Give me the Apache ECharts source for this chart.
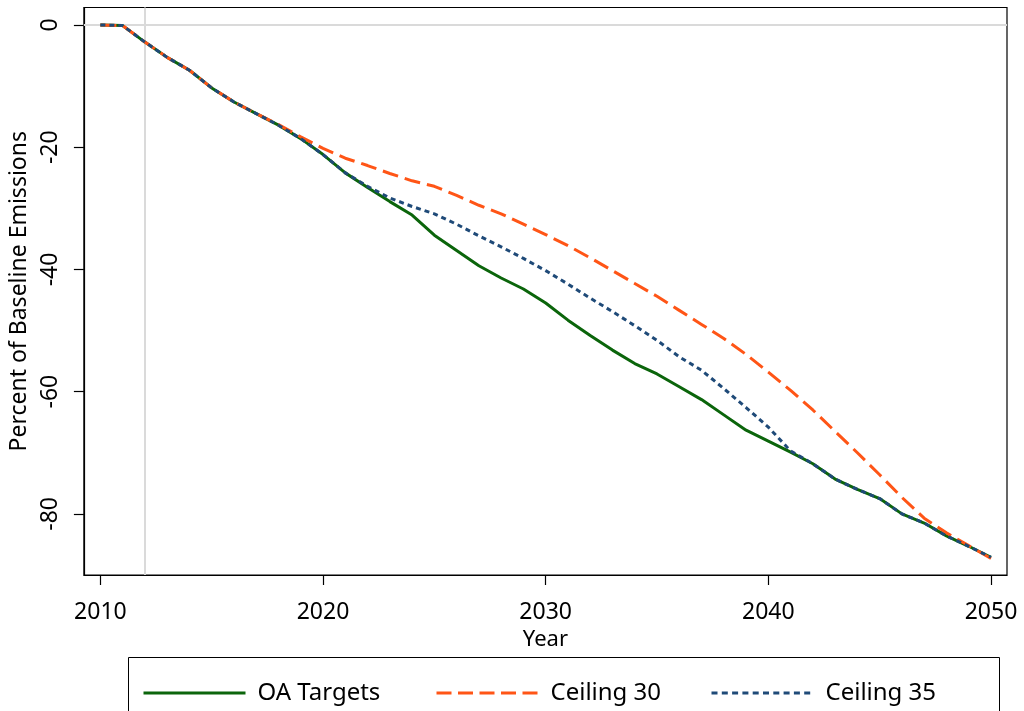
<!DOCTYPE html>
<html>
<head>
<meta charset="utf-8">
<script src="https://cdn.jsdelivr.net/npm/echarts@6/dist/echarts.min.js"></script>
<style>html,body{margin:0;padding:0;background:#fff;}#c{width:1024px;height:711px;}</style>
</head>
<body>
<div id="c"></div>
<script>
var years = [2010,2011,2012,2013,2014,2015,2016,2017,2018,2019,2020,2021,2022,2023,2024,2025,2026,2027,2028,2029,2030,2031,2032,2033,2034,2035,2036,2037,2038,2039,2040,2041,2042,2043,2044,2045,2046,2047,2048,2049,2050];
var oaTargets = [0,-0.1,-2.8,-5.3,-7.4,-10.3,-12.6,-14.5,-16.4,-18.6,-21.2,-24.2,-26.6,-28.9,-31.1,-34.4,-36.9,-39.4,-41.4,-43.2,-45.5,-48.3,-50.8,-53.2,-55.4,-57.1,-59.2,-61.3,-63.8,-66.3,-68.1,-69.9,-71.8,-74.3,-76.0,-77.5,-80.0,-81.5,-83.6,-85.3,-87.1];
var ceiling30 = [0,-0.1,-2.8,-5.3,-7.4,-10.3,-12.6,-14.5,-16.3,-18.3,-20.2,-21.8,-23.0,-24.3,-25.5,-26.4,-27.9,-29.5,-30.9,-32.6,-34.3,-36.1,-38.1,-40.2,-42.3,-44.4,-46.7,-49.0,-51.3,-53.9,-56.8,-59.8,-63.0,-66.5,-70.0,-73.6,-77.3,-80.7,-83.1,-85.2,-87.3];
var ceiling35 = [0,-0.1,-2.8,-5.3,-7.4,-10.3,-12.6,-14.5,-16.4,-18.6,-21.2,-24.2,-26.4,-28.3,-29.7,-30.9,-32.6,-34.5,-36.3,-38.2,-40.2,-42.4,-44.7,-46.9,-49.2,-51.6,-54.3,-56.5,-59.5,-62.6,-65.8,-69.7,-71.8,-74.3,-76.0,-77.5,-80.0,-81.5,-83.6,-85.3,-87.1];
var xTicks = [2010,2020,2030,2040,2050];
var yTicks = [0,-20,-40,-60,-80];
var seriesNames = ['OA Targets','Ceiling 30','Ceiling 35'];
var refX = 2012, refY = 0;

function pairs(v){ return years.map(function(y,i){ return [y, v[i]]; }); }

var FONT = 'Noto Sans';
function legendAt(name, left, dash){
  return { data: [name], left: left, itemWidth: 102, top: 681, padding: 0, itemHeight: 14,
    itemStyle: { opacity: 0 },
    lineStyle: { width: 3, type: dash },
    textStyle: { fontFamily: FONT, fontSize: 24, color: '#000', padding: [0,0,0,7] } };
}

var chart = echarts.init(document.getElementById('c'));
chart.setOption({
  animation: false,
  backgroundColor: '#fff',
  grid: { left: 83.5, top: 7.5, right: 17, bottom: 136, show: true, borderColor: '#000', borderWidth: 1.2, containLabel: false },
  xAxis: {
    type: 'value', min: 2009.26, max: 2050.72,
    name: 'Year', nameLocation: 'middle', nameGap: 35,
    nameTextStyle: { fontFamily: FONT, fontSize: 22, color: '#000' },
    axisLine: { show: true, onZero: false, lineStyle: { color: '#000', width: 1.2 } },
    axisTick: { show: true, length: 10, customValues: xTicks, lineStyle: { color: '#000', width: 1.2 } },
    axisLabel: { customValues: xTicks, formatter: function(v){ return String(v); }, fontFamily: FONT, fontSize: 23, color: '#000', margin: 26 },
    splitLine: { show: false }
  },
  yAxis: {
    type: 'value', min: -90, max: 2.86,
    name: 'Percent of Baseline Emissions', nameLocation: 'middle', nameGap: 46,
    nameTextStyle: { fontFamily: FONT, fontSize: 23, color: '#000' },
    axisLine: { show: true, onZero: false, lineStyle: { color: '#000', width: 1.2 } },
    axisTick: { show: true, length: 10, customValues: yTicks, lineStyle: { color: '#000', width: 1.2 } },
    axisLabel: { customValues: yTicks, rotate: 90, fontFamily: FONT, fontSize: 23, color: '#000', margin: 22 },
    splitLine: { show: false }
  },
  legend: [
    legendAt(seriesNames[0], 142, 'solid'),
    legendAt(seriesNames[1], 435, [15, 6.5]),
    legendAt(seriesNames[2], 710, [6, 4.3])
  ],
  graphic: [
    { type: 'rect', shape: { x: 128.5, y: 657.5, width: 871, height: 70 }, style: { fill: 'none', stroke: '#000', lineWidth: 1 }, silent: true }
  ],
  series: [
    { name: seriesNames[0], type: 'line', data: pairs(oaTargets), symbol: 'none', z: 3,
      lineStyle: { color: '#0b650b', width: 3 }, itemStyle: { color: '#0b650b' },
      markLine: { silent: true, symbol: 'none', z: 1, label: { show: false },
        lineStyle: { color: '#dadada', width: 2, type: 'solid' },
        data: [ { yAxis: refY }, { xAxis: refX } ] } },
    { name: seriesNames[1], type: 'line', data: pairs(ceiling30), symbol: 'none', z: 4,
      lineStyle: { color: '#ff5516', width: 3, type: [16, 7] }, itemStyle: { color: '#ff5516' } },
    { name: seriesNames[2], type: 'line', data: pairs(ceiling35), symbol: 'none', z: 5,
      lineStyle: { color: '#1f4a78', width: 3, type: [5, 4] }, itemStyle: { color: '#1f4a78' } }
  ]
});
</script>
</body>
</html>
